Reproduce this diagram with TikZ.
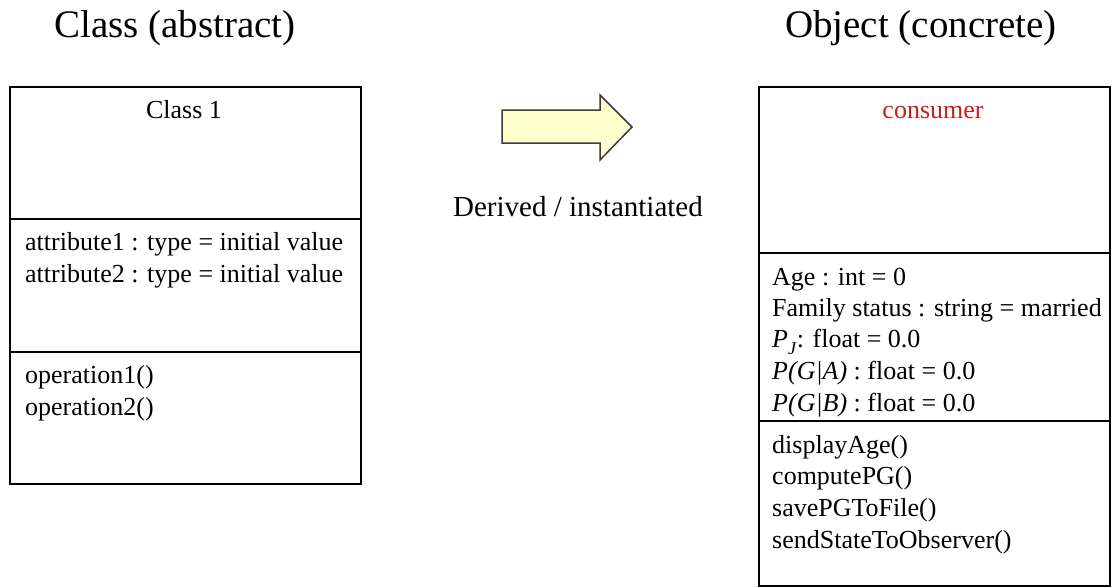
\documentclass[tikz,border=0pt]{standalone}
\usepackage{fontspec}
\setmainfont{Liberation Serif}
\definecolor{arrowfill}{RGB}{255,255,204}
\definecolor{arrowline}{RGB}{60,60,60}
\definecolor{objname}{RGB}{200,30,30}
\tikzset{
  headline/.style={anchor=base,font=\fontsize{39}{44}\selectfont},
  member/.style={anchor=base west,font=\fontsize{26}{31}\selectfont,inner sep=0pt},
  boxname/.style={anchor=base,font=\fontsize{26}{31}\selectfont,inner sep=0pt},
  umlbox/.style={line width=1.4pt}
}
\begin{document}
\begin{tikzpicture}[x=1pt,y=-1pt]
  \useasboundingbox (0,0) rectangle (1113,587);
  % Titles over the two boxes
  \node[headline] (classtitle) at (175,37) {Class (abstract)};
  \node[headline] (objtitle) at (921,37) {Object (concrete)};
  % Class box: name, attributes, operations
  \draw[umlbox] (10,87) rectangle (361,484);
  \draw[umlbox] (10,219) -- (361,219);
  \draw[umlbox] (10,352) -- (361,352);
  \node[boxname] (classname) at (184,118) {Class 1};
  \node[member] (attr1) at (25,250) {attribute1 : type = initial value};
  \node[member] (attr2) at (25,282) {attribute2 : type = initial value};
  \node[member] (op1) at (25,383) {operation1()};
  \node[member] (op2) at (25,415) {operation2()};
  % Block arrow and its label
  \draw[line width=1.5pt,arrowline,fill=arrowfill]
    (502,110) -- (600,110) -- (600,95) -- (632,127) -- (600,160)
    -- (600,143) -- (502,143) -- cycle;
  \node[anchor=base,font=\fontsize{29}{34}\selectfont] (derived) at (578,216) {Derived / instantiated};
  % Object box: name, attributes, operations
  \draw[umlbox] (759,87) rectangle (1110,586);
  \draw[umlbox] (759,253) -- (1110,253);
  \draw[umlbox] (759,421) -- (1110,421);
  \node[boxname,objname] (objname) at (933,118) {consumer};
  \node[member] (age) at (772,285) {Age : int = 0};
  \node[member] (family) at (772,316) {Family status : string = married};
  \node[member] (pj) at (772,347) {\textit{P}\raisebox{-7pt}{\fontsize{18}{18}\selectfont\textit{J}}: float = 0.0};
  \node[member] (pga) at (772,379) {\textit{P(G|A)} : float = 0.0};
  \node[member] (pgb) at (772,411) {\textit{P(G|B)} : float = 0.0};
  \node[member] (m1) at (772,453) {displayAge()};
  \node[member] (m2) at (772,484) {computePG()};
  \node[member] (m3) at (772,516) {savePGToFile()};
  \node[member] (m4) at (772,548) {sendStateToObserver()};
\end{tikzpicture}
\end{document}
